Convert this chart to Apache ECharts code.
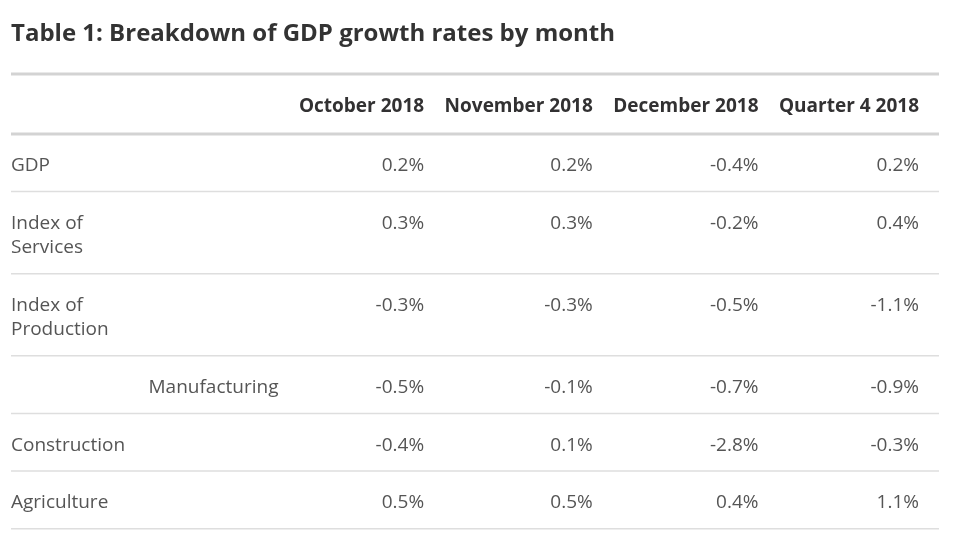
<!DOCTYPE html>
<html>
<head>
<meta charset="utf-8">
<script src="https://cdn.jsdelivr.net/npm/echarts@6/dist/echarts.min.js"></script>
<style>html,body{margin:0;padding:0;background:#fff}#chart{width:960px;height:541px}</style>
</head>
<body>
<div id="chart"></div>
<script>
const tableTitle = 'Table 1: Breakdown of GDP growth rates by month';
const columns = ['October 2018', 'November 2018', 'December 2018', 'Quarter 4 2018'];
const rowLabels = ['GDP', 'Index of\nServices', 'Index of\nProduction', 'Manufacturing', 'Construction', 'Agriculture'];
const rowLevel = [0, 0, 0, 1, 0, 0];
const oct2018 = [0.2, 0.3, -0.3, -0.5, -0.4, 0.5];
const nov2018 = [0.2, 0.3, -0.3, -0.1, 0.1, 0.5];
const dec2018 = [-0.4, -0.2, -0.5, -0.7, -2.8, 0.4];
const q42018 = [0.2, 0.4, -1.1, -0.9, -0.3, 1.1];

const valueCols = [oct2018, nov2018, dec2018, q42018];
const FONT = '"Open Sans", "Noto Sans", sans-serif';
const BODY_SIZE = 19, HEAD_SIZE = 19;
const CELL_PAD = 20.5;

// measure header widths to lay out columns like an auto table
const cv = document.createElement('canvas').getContext('2d');
function textW(t, weight, size) {
  cv.font = weight + ' ' + size + 'px "Open Sans"';
  return Math.max.apply(null, t.split('\n').map(s => cv.measureText(s).width));
}
const colWidths = columns.map((c, j) => Math.max(textW(c, 'bold', HEAD_SIZE),
  ...valueCols[j].map(v => textW(v.toFixed(1) + '%', 'normal', BODY_SIZE))));

// row bands in "line" units, derived from label line counts
const rows = [];
let acc = 0;
const headerH = 1 + 1.45;
rows.push([-1, acc, acc + headerH]);
acc += headerH;
rowLabels.forEach((l, i) => {
  const n = l.split('\n').length;
  rows.push([i, acc, acc + n + 1.35]);
  acc += n + 1.35;
});
const total = acc;

const chart = echarts.init(document.getElementById('chart'));
chart.setOption({
  animation: false,
  title: {
    text: tableTitle, left: 6, top: 17,
    textStyle: { fontFamily: FONT, fontSize: 24, fontWeight: 'bold', color: '#333333' }
  },
  grid: { left: 11, right: 21, top: 74, bottom: 12 },
  xAxis: { type: 'value', min: 0, max: 1, show: false },
  yAxis: { type: 'value', min: 0, max: total, inverse: true, show: false },
  series: [{
    type: 'custom',
    coordinateSystem: 'cartesian2d',
    clip: false,
    data: rows,
    renderItem: function (params, api) {
      const idx = api.value(0);
      const yTop = api.coord([0, api.value(1)])[1];
      const yBot = api.coord([0, api.value(2)])[1];
      const xL = api.coord([0, 0])[0];
      const xR = api.coord([1, 0])[0];
      const unit = api.size([0, 1])[1];
      // right edges of data columns
      const rights = [];
      let r = xR - 20;
      for (let j = columns.length - 1; j >= 0; j--) {
        rights[j] = r;
        r -= colWidths[j] + CELL_PAD;
      }
      const firstColRight = rights[0] - colWidths[0] - CELL_PAD;
      const children = [];
      if (idx < 0) {
        const cy = (yTop + yBot) / 2 + 2.5;
        columns.forEach((c, j) => {
          children.push({ type: 'text', style: { text: c, x: rights[j], y: cy, align: 'right', verticalAlign: 'middle',
            font: 'bold ' + HEAD_SIZE + 'px ' + FONT, fill: '#323132' } });
        });
        children.push({ type: 'rect', shape: { x: xL, y: yTop - 1.5, width: xR - xL, height: 3 }, style: { fill: '#d3d3d3' } });
        children.push({ type: 'rect', shape: { x: xL, y: yBot - 1.5, width: xR - xL, height: 3 }, style: { fill: '#d3d3d3' } });
      } else {
        const ty = yTop + 0.79 * unit;
        const lvl = rowLevel[idx];
        children.push({ type: 'text', style: { text: rowLabels[idx], x: lvl ? firstColRight : xL, y: ty,
          align: lvl ? 'right' : 'left', verticalAlign: 'top', lineHeight: unit,
          font: BODY_SIZE + 'px ' + FONT, fill: '#555555' } });
        valueCols.forEach((col, j) => {
          children.push({ type: 'text', style: { text: col[idx].toFixed(1) + '%', x: rights[j], y: ty,
            align: 'right', verticalAlign: 'top', lineHeight: unit,
            font: BODY_SIZE + 'px ' + FONT, fill: '#555555' } });
        });
        children.push({ type: 'rect', shape: { x: xL, y: yBot - 1, width: xR - xL, height: 1.5 }, style: { fill: '#dedede' } });
      }
      return { type: 'group', children: children };
    }
  }]
});
</script>
</body>
</html>
